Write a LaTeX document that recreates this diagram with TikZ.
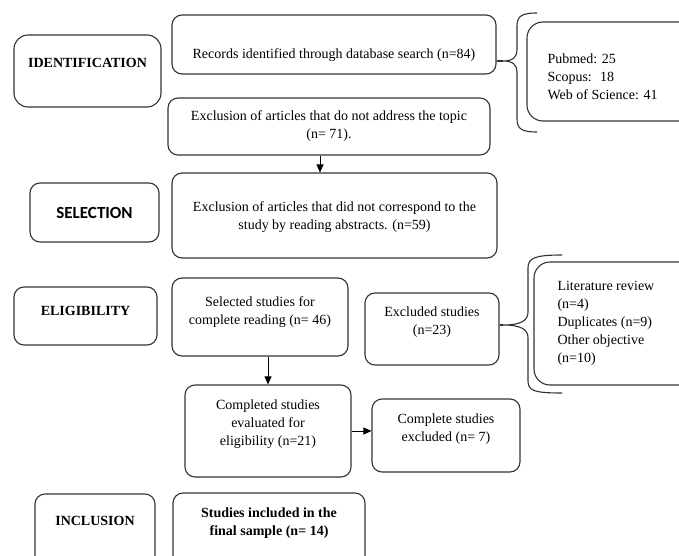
\documentclass[tikz,border=0pt]{standalone}
\usepackage{fontspec}
\setmainfont{Liberation Serif}
\newfontfamily\calibfont{Carlito}
\usetikzlibrary{arrows.meta}

\begin{document}
\begin{tikzpicture}[x=1pt, y=-1pt,
    box/.style={draw=black!80, line width=1.1pt, rounded corners=10pt, inner sep=0pt},
    txt/.style={align=center, font=\fontsize{14}{18}\selectfont},
    bold/.style={align=center, font=\fontsize{14}{18}\selectfont\bfseries},
    arr/.style={line width=1pt, -{Triangle[length=8pt,width=7pt]}},
    brace/.style={draw=black!80, line width=1.1pt}]

    \useasboundingbox (0,0) rectangle (679,556);

    % STAGE BOXES (left column)
    \node[box, rounded corners=14pt, minimum width=147pt, minimum height=72pt] (ident) at (87.5,71) {};
    \node[bold] (identT) at ([yshift=8pt]ident.center) {IDENTIFICATION};

    \node[box, minimum width=129pt, minimum height=59pt] (selc) at (94.5,212.5) {};
    \node[font=\calibfont\fontsize{17}{20}\selectfont\bfseries] (selcT) at (selc.center) {SELECTION};

    \node[box, minimum width=143pt, minimum height=58pt] (elig) at (85.5,316) {};
    \node[bold] (eligT) at ([yshift=5pt]elig.center) {ELIGIBILITY};

    \node[box, minimum width=120pt, minimum height=90pt] (incl) at (95,539) {};
    \node[bold] (inclT) at (95,521) {INCLUSION};

    % IDENTIFICATION
    \node[box, minimum width=324pt, minimum height=59pt] (rec) at (334,44.5) {};
    \node[txt] (recT) at ([yshift=-10.5pt]rec.center) {Records identified through database search (n=84)};

    \node[box, minimum width=322pt, minimum height=57pt] (excl) at (329,126.5) {};
    \node[txt] (exclT) at (excl.center) {Exclusion of articles that do not address the topic\\(n= 71).};

    % databases + brace
    \node[box, rounded corners=16pt, minimum width=180pt, minimum height=99pt] (pub) at (617,71.5) {};
    \node[txt, align=left, anchor=west] (pubT) at (544,76.5) {Pubmed: 25\\Scopus:~ 18\\Web of Science: 41};
    \coordinate (b1tip) at (503,61);
    \draw[brace] (537,13) .. controls (522,13) and (517,16) .. (517,26) -- (517,50)
        .. controls (517,57) and (513,61) .. (b1tip)
        .. controls (513,61) and (517,65) .. (517,72) -- (517,119)
        .. controls (517,129) and (522,132) .. (537,132);
    \draw[brace] (rec.east |- b1tip) -- (b1tip);

    % SELECTION
    \node[box, minimum width=325pt, minimum height=85pt] (abs) at (334.5,215.5) {};
    \node[txt] (absT) at ([yshift=-1.5pt]abs.center) {Exclusion of articles that did not correspond to the\\study by reading abstracts. (n=59)};
    \draw[arr] ([xshift=-9pt]excl.south) -- ([xshift=-9pt]excl.south |- abs.north);

    % ELIGIBILITY
    \node[box, minimum width=176pt, minimum height=78pt] (full) at (260,317) {};
    \node[txt] (fullT) at ([yshift=5pt]full.center) {Selected studies for\\complete reading (n= 46)};

    \node[box, minimum width=134pt, minimum height=72pt] (exc) at (432,329) {};
    \node[txt] (excT) at ([yshift=7pt]exc.center) {Excluded studies\\(n=23)};

    % reasons + brace
    \node[box, rounded corners=16pt, minimum width=180pt, minimum height=123pt] (lit) at (624,323.5) {};
    \node[txt, align=left, anchor=west] (litT) at (554,323.5) {Literature review\\(n=4)\\Duplicates (n=9)\\Other objective\\(n=10)};
    \coordinate (b2tip) at (503,325);
    \draw[brace] (562,255) .. controls (535,255) and (528,258) .. (528,268) -- (528,312)
        .. controls (528,320) and (522,325) .. (b2tip)
        .. controls (522,325) and (528,330) .. (528,338) -- (528,381)
        .. controls (528,391) and (535,393) .. (562,393);
    \draw[brace] (exc.east |- b2tip) -- (b2tip);

    \node[box, minimum width=166pt, minimum height=92pt] (comp) at (268,431) {};
    \node[txt] (compT) at ([yshift=7pt]comp.center) {Completed studies\\evaluated for\\eligibility (n=21)};
    \draw[arr] (comp.north |- full.south) -- (comp.north);

    \node[box, minimum width=148pt, minimum height=73pt] (cexc) at (446,435.5) {};
    \node[txt] (cexcT) at ([yshift=6pt]cexc.center) {Complete studies\\excluded (n= 7)};
    \draw[arr] (comp.east) -- (comp.east -| cexc.west);

    % INCLUSION
    \node[box, minimum width=192pt, minimum height=90pt] (fin) at (269,538) {};
    \node[bold] (finT) at (269,523) {Studies included in the\\final sample (n= 14)};

\end{tikzpicture}
\end{document}
